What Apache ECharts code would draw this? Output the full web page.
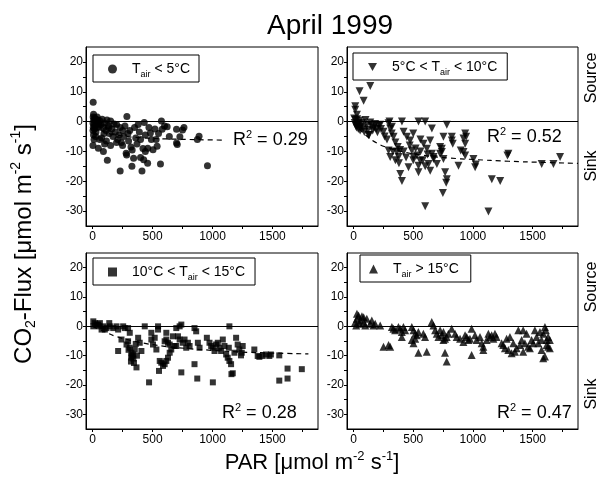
<!DOCTYPE html>
<html><head><meta charset="utf-8">
<script src="https://cdn.jsdelivr.net/npm/echarts@6/dist/echarts.min.js"></script>
<style>html,body{margin:0;padding:0;background:#fff}#c{width:607px;height:494px}</style>
</head><body><div id="c"></div>
<script>
// ---- tick labels ----
const xTickLabels = [0, 500, 1000, 1500];
const xMinorTicks = [250, 750, 1250, 1750];
const yTickLabels = [20, 10, 0, -10, -20, -30];
const yMinorTicks = [15, 5, -5, -15, -25];

// ---- series names / annotations ----
const seriesNames = ['cold', 'cool', 'mild', 'warm'];
const legendLabels = ['T{sub|air} < 5°C', '5°C < T{sub|air} < 10°C', '10°C < T{sub|air} < 15°C', 'T{sub|air} > 15°C'];
const r2Values = ['0.29', '0.52', '0.28', '0.47'];

// ---- data: [PAR, CO2 flux] ----
const cold = [[5,6.5],[8,2.5],[5,1.5],[10,0.5],[3,-0.5],[12,-1],[6,-2],[15,-2.5],[4,-3],[20,-1.5],[25,0.8],[30,-0.2],[18,1.2],[35,-1],[40,-2],[28,-3.5],[45,0.5],[50,-0.5],[55,-1.8],[38,1.5],[60,0.3],[8,-4.5],[12,-6],[3,-8],[48,-8.9],[90,-10],[123,-13],
[70,-1],[80,0.8],[90,-2],[100,-0.5],[110,-3],[120,0.5],[130,-1.5],[140,-4],[150,0.2],[160,-2.5],[170,-5],[75,-5.5],[95,-4],[115,-6.5],[135,-2],[180,-0.8],[190,-3.5],[200,-1],[210,-6],[220,-4.5],[230,-2],[240,-7],[250,-3],[260,-5],[270,-1.5],[286,1.7],[295,-4],[280,-10.6],[284,-11.2],[300,-6.5],[310,-3],[320,-8.5],[328,-15],[342,-12.3],[230,-16.6],[350,-2],[360,-5.5],[370,-7.5],[380,-1],[390,-3.5],[400,-6],[412,-16.6],[420,-9],[426,-12.8],[431,-0.3],[440,-4.5],[459,-14],[460,-8.9],[470,-2],[482,-3.8],[490,-6],[504,-9.4],[520,-2.5],[538,-8.3],[550,-4],[566,-14.2],[574,0.2],[580,-2.6],[600,-1.5],[622,-1.7],[640,-5],[700,-2.6],[706,-7.7],[700,-7.2],[728,-5.1],[762,-2],[750,-2.8],[874,-6],[888,-4.9],[958,-14.8],[250,-8],[330,-9.5],[200,-7],[150,-8],[100,-7.5],[60,-6],[25,-5],[400,-12],[440,-10],[530,-6]];

const cool = [[5,1],[10,-0.5],[15,0.5],[20,-1.5],[25,-2],[30,0.8],[35,-0.8],[40,-2.5],[45,-1],[50,0.3],[55,-3],[60,-1.8],[70,-0.5],[80,-2.2],[90,-3.5],[100,0.5],[110,-1.2],[120,-2.8],[130,-4.5],[140,-0.3],[150,-1.5],[160,-3],[170,-2],[180,-0.8],[190,-2.5],[200,-3.6],[210,-1.5],
[50,10.2],[84,7],[140,11.9],[14,4],[14,5.1],[28,2.3],[126,-4.5],[223,-1.1],[251,-3.4],[293,-0.6],[307,-2.3],[301,0],[321,-1.7],[335,-5.1],[293,-9.7],[307,-11.9],[363,-10.2],[377,-11.9],[391,-17.6],[405,-19.9],[405,0],[419,-3.4],[446,-5.1],[474,-6.3],[488,-9.7],[502,-11.9],[530,-11.4],[544,-14.8],[558,-13.1],[460,-15.3],[544,-17],[544,0],[600,0],[600,-28.4],[586,-7.4],[614,-9.1],[642,-6.3],[656,-10.8],[670,-11.9],[628,-14.2],[642,-16.5],[670,-12.5],[656,-2.3],[698,-14.2],[725,-8.5],[725,-10.8],[739,-10.2],[753,-12.5],[739,-9.1],[748,-23.9],[767,-17],[776,-20.5],[781,-19.3],[781,-1.1],[753,-5.1],[823,-5.1],[823,-6.3],[831,-7.4],[879,-14.8],[898,-9.7],[921,-10.2],[935,-7.4],[935,-4],[943,-5.1],[921,-5.7],[935,-11.4],[1004,-12.5],[1018,-15.3],[1024,-14.4],[1130,-30.1],[1158,-19.3],[1228,-19.9],[1297,-10.8],[1289,-11.4],[1576,-14.2],[1674,-14.2],[1730,-11.9],
[230,-2.5],[260,-5],[280,-6],[320,-4],[350,-7],[370,-8.5],[390,-9.5],[420,-10],[440,-12],[470,-8],[500,-13],[520,-9],[560,-10],[580,-13],[600,-15],[620,-11],[560,-6],[500,-4],[330,-10],[350,-13],[380,-14]];

const mild = [[6,1.7],[19,1.1],[47,0.6],[61,1.1],[89,0],[116,-0.6],[139,1.1],[144,0],[102,-1.1],[75,-1.1],[172,-0.6],[199,0],[213,-1.1],[255,0],[269,-0.6],[33,0.6],[6,0],[55,0],
[213,-8.4],[241,-4.5],[296,-0.6],[310,-2.2],[283,-6.2],[296,-5.1],[310,-7.3],[324,-9],[324,-10.7],[338,-9.6],[352,-7.9],[324,-10.1],[366,-14],[380,-3.9],[393,-5.6],[407,-8.4],[435,0],[471,-19.1],[490,-2.2],[490,-4.5],[504,-6.2],[518,-3.9],[532,-7.9],[546,0],[546,-1.1],[554,-15.2],[560,-11.8],[573,-12.4],[587,-13.5],[601,-12.9],[615,-11.8],[629,-10.7],[643,-9],[656,-7.9],[643,-6.2],[615,-4.5],[629,-5.6],[670,-3.4],[684,-6.7],[601,-5.1],[615,-2.2],[698,-0.6],[726,0],[740,0.6],[698,-6.7],[712,-3.4],[726,-4.5],[753,-5.6],[767,-4.5],[781,-7.3],[795,-5.6],[809,-6.7],[740,-15.7],[850,-0.6],[864,-1.7],[878,-5.6],[892,-7.3],[850,-12.9],[873,-17.8],[953,-3.9],[975,-5.6],[989,-6.7],[1003,-7.3],[1017,-8.4],[1030,-6.2],[1003,-19.1],[1044,-5.6],[1058,-7.3],[1072,-8.4],[1086,-4.5],[1100,-6.7],[1114,-9.6],[1127,-10.7],[1141,-11.8],[1136,-7.3],[1141,0],[1155,-12.9],[1169,-16],[1158,-16.3],[1183,-9],[1197,-3.9],[1210,-6.2],[1224,-7.9],[1238,-9.9],[1252,-6.7],[1244,-9],[1349,-7.9],[1377,-10.1],[1391,-10.4],[1418,-10.1],[1446,-9.6],[1474,-10.1],[1487,-9.6],[1557,-9.9],[1557,-18.5],[1626,-14.4],[1626,-17.8],[1745,-14.6],
[300,-8],[340,-11],[345,-12.5],[360,-6],[370,-10],[320,-12]];

const warm = [[28,4.3],[42,3.7],[70,3.4],[28,2.6],[56,2],[84,1.5],[111,2.6],[139,0.9],[153,2],[167,0.3],[181,0.9],[84,3.1],[14,1.5],[22,0.3],[50,0.9],[98,0.3],
[223,0.3],[251,-7],[307,-7],[293,-6.4],[321,-0.2],[334,-0.8],[348,-1.3],[376,-0.2],[390,-0.8],[404,-1.9],[418,-0.2],[432,-1.3],[404,-3.6],[488,-0.2],[502,-1.3],[516,-2.5],[488,-4.7],[502,-5.8],[516,-4.2],[530,-3],[543,-1.9],[543,-9],[585,-2.5],[599,-3.6],[613,-8.7],[655,1.5],[669,0.3],[683,-1.3],[697,-2.5],[711,-3.6],[725,-1.3],[739,-3],[753,-1.9],[766,-4.2],[753,-4.7],[780,-3.6],[794,-2.5],[766,-9],[780,-12],[822,-0.8],[850,-2.5],[864,-3.6],[892,-4.2],[920,-5.3],[934,-3],[948,-3.6],[962,-4.7],[975,-4.2],[989,-0.8],[989,-9.8],[1017,-3],[1031,-4.7],[1059,-3.6],[1073,-5.8],[1087,-7],[1115,-4.7],[1129,-2.5],[1143,-3.6],[1157,-3],[1171,-4.2],[1184,-2.5],[1198,-3.6],[1087,-8.1],[1240,-5.8],[1254,-6.4],[1268,-7.5],[1282,-4.2],[1296,-8.1],[1310,-3.6],[1324,-9.2],[1338,-5.8],[1352,-8.7],[1366,-7.5],[1380,-1.3],[1394,-6.4],[1408,-4.7],[1421,-1.3],[1421,-8.7],[1435,-5.8],[1449,-2.5],[1463,-7],[1477,-7.5],[1491,-4.7],[1505,-5.8],[1519,-1.3],[1533,-3.6],[1547,-5.8],[1561,-1.9],[1575,-4.7],[1589,-2.5],[1603,-0.2],[1611,-1.3],[1617,-4.7],[1603,-10.3],[1617,-6.4],[1630,-7],[1630,-3.6],[1644,-4.7],[1644,-7.5],[1589,-10.9],[1575,-8.1]];

// ---- regression curves ----
const fitCold = [[0,-1.5],[100,-3.5],[200,-4.5],[400,-5.4],[700,-5.9],[1100,-6.2]];
const fitCool = [[0,0],[50,-2.5],[100,-4.5],[200,-7.3],[300,-8.9],[400,-10],[600,-11.4],[800,-12.2],[1000,-12.7],[1300,-13.3],[1600,-13.7],[1880,-14]];
const fitMild = [[0,0],[100,-1.8],[200,-3.5],[400,-5.5],[600,-6.8],[800,-7.6],[1000,-8.2],[1200,-8.7],[1500,-9.1],[1800,-9.4]];

const FONT = 'Liberation Sans, Arial, sans-serif';
const chart = echarts.init(document.getElementById('c'), null, {renderer: 'canvas'});

const grids = [
  {left: 86, top: 47, width: 232, height: 179},
  {left: 347, top: 47, width: 231, height: 179},
  {left: 86, top: 253, width: 232, height: 176},
  {left: 347, top: 253, width: 231, height: 176}
];

const plain = v => String(v);
const num = (a, b) => a - b;
const xTicksAll = xTickLabels.concat(xMinorTicks).sort(num);
const yTicksAll = yTickLabels.concat(yMinorTicks).sort(num);
const xAxes = [], yAxes = [];
grids.forEach((g, i) => {
  xAxes.push({type: 'value', gridIndex: i, position: 'bottom', min: -55, max: 1880,
    axisLine: {show: true, onZero: false, lineStyle: {color: '#000', width: 1}},
    axisTick: {show: true, inside: false, length: 3, customValues: xTicksAll, lineStyle: {color: '#000'}},
    axisLabel: {show: true, customValues: xTickLabels, formatter: plain, color: '#000', fontSize: 12, fontFamily: FONT, margin: 5},
    splitLine: {show: false}});
  yAxes.push({type: 'value', gridIndex: i, position: 'left', min: -35, max: 25,
    axisLine: {show: true, onZero: false, lineStyle: {color: '#000', width: 1}},
    axisTick: {show: true, inside: false, length: 3, customValues: yTicksAll, lineStyle: {color: '#000'}},
    axisLabel: {show: true, customValues: yTickLabels, formatter: plain, color: '#000', fontSize: 12, fontFamily: FONT, margin: 3},
    splitLine: {show: false}});
});

const zeroLine = {silent: true, symbol: ['none', 'none'], label: {show: false},
  lineStyle: {color: '#000', type: 'solid', width: 1}, data: [{yAxis: 0}]};

const downTriangle = 'path://M0,0 L10,0 L5,9 Z';
const scatterData = [cold, cool, mild, warm];
const symbols = ['circle', downTriangle, 'rect', 'triangle'];
const sizes = [7, 8, 6, 8];
const series = [];
scatterData.forEach((d, i) => {
  series.push({name: seriesNames[i], type: 'scatter', xAxisIndex: i, yAxisIndex: i,
    data: d, symbol: symbols[i], symbolSize: sizes[i],
    itemStyle: {color: '#000'}, markLine: zeroLine, z: 3});
});
[fitCold, fitCool, fitMild].forEach((d, i) => {
  series.push({name: 'fit' + i, type: 'line', xAxisIndex: i, yAxisIndex: i, data: d,
    showSymbol: false, smooth: true, lineStyle: {color: '#000', width: 1.2, type: [5, 4]}, z: 2});
});

const legendPos = [
  {left: 93, top: 55, padding: [4, 9, 3, 15]},
  {left: 353, top: 53, padding: [4, 10, 3, 15]},
  {left: 93, top: 258, padding: [4, 10, 3, 15]},
  {left: 360, top: 255, padding: [4, 12, 3, 9]}
];
const legends = legendPos.map((p, i) => ({
  show: true, left: p.left, top: p.top, padding: p.padding, data: [seriesNames[i]],
  borderColor: '#000', borderWidth: 1, borderRadius: 0, itemWidth: 9, itemHeight: 9,
  formatter: () => legendLabels[i],
  textStyle: {color: '#000', fontSize: 14, fontFamily: FONT, lineHeight: 20, padding: [0, 0, 0, 10],
    rich: {sub: {fontSize: 9, fontFamily: FONT, lineHeight: 9, verticalAlign: 'bottom', color: '#000'}}}
}));

const supRich = (fs, ss) => ({sup: {fontSize: ss, fontFamily: FONT, lineHeight: ss, verticalAlign: 'top', fill: '#000'},
  sub: {fontSize: ss, fontFamily: FONT, lineHeight: ss, verticalAlign: 'bottom', fill: '#000'}});

const r2Pos = [[233, 140], [487, 137], [222, 413], [497, 413]];
const graphics = [
  {type: 'text', x: 330, y: 26, style: {text: 'April 1999', fontSize: 28, fontFamily: FONT, fill: '#000', align: 'center', verticalAlign: 'middle'}},
  {type: 'text', x: 312, y: 463, style: {text: 'PAR [μmol m{sup|-2} s{sup|-1}]', fontSize: 22, fontFamily: FONT, lineHeight: 27, fill: '#000', align: 'center', verticalAlign: 'middle', rich: supRich(22, 13)}},
  {type: 'text', x: 24, y: 244, rotation: Math.PI / 2, style: {text: 'CO{sub|2}-Flux [μmol m{sup|-2} s{sup|-1}]', fontSize: 24, fontFamily: FONT, lineHeight: 29, fill: '#000', align: 'center', verticalAlign: 'middle', rich: supRich(24, 14)}},
  {type: 'text', x: 592, y: 78, rotation: Math.PI / 2, style: {text: 'Source', fontSize: 16, fontFamily: FONT, fill: '#000', align: 'center', verticalAlign: 'middle'}},
  {type: 'text', x: 592, y: 166, rotation: Math.PI / 2, style: {text: 'Sink', fontSize: 16, fontFamily: FONT, fill: '#000', align: 'center', verticalAlign: 'middle'}},
  {type: 'text', x: 592, y: 287, rotation: Math.PI / 2, style: {text: 'Source', fontSize: 16, fontFamily: FONT, fill: '#000', align: 'center', verticalAlign: 'middle'}},
  {type: 'text', x: 592, y: 394, rotation: Math.PI / 2, style: {text: 'Sink', fontSize: 16, fontFamily: FONT, fill: '#000', align: 'center', verticalAlign: 'middle'}}
];
r2Pos.forEach((p, i) => {
  graphics.push({type: 'text', x: p[0], y: p[1], z: 10, style: {text: 'R{sup|2} = ' + r2Values[i], fontSize: 18, fontFamily: FONT, lineHeight: 22, fill: '#000', align: 'left', verticalAlign: 'middle', rich: supRich(18, 11)}});
});

chart.setOption({
  animation: false,
  backgroundColor: '#fff',
  grid: grids.map(g => Object.assign({show: true, borderColor: '#000', borderWidth: 1, backgroundColor: 'transparent'}, g)),
  xAxis: xAxes,
  yAxis: yAxes,
  legend: legends,
  series: series,
  graphic: graphics
});
</script>
</body></html>
